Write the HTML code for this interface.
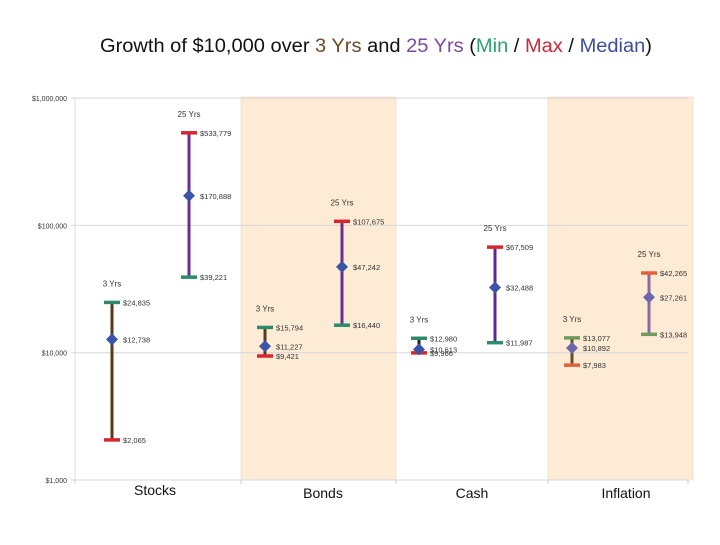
<!DOCTYPE html>
<html><head><meta charset="utf-8"><style>
html,body{margin:0;padding:0;background:#fff;}
svg text{font-family:"Liberation Sans",Arial,sans-serif;}
</style></head><body>
<svg id="chart" width="720" height="540" viewBox="0 0 720 540" xmlns="http://www.w3.org/2000/svg">
<text x="100" y="52" font-size="19" textLength="552" lengthAdjust="spacingAndGlyphs" fill="#111">Growth of $10,000 over <tspan fill="#6b4a25">3 Yrs</tspan> and <tspan fill="#7a4a9e">25 Yrs</tspan> (<tspan fill="#2aa36a">Min</tspan> / <tspan fill="#c8283a">Max</tspan> / <tspan fill="#3b4e9e">Median</tspan>)</text>
<g id="bands"></g>
<g id="grid"></g>
<g id="marks"></g>
</svg>
<script>
const categories = ["Stocks","Bonds","Cash","Inflation"];
const periods = ["3 Yrs","25 Yrs"];
const minVals = [[2065,39221],[9421,16440],[9966,11987],[7983,13948]];
const maxVals = [[24835,533779],[15794,107675],[12980,67509],[13077,42265]];
const medVals = [[12738,170888],[11227,47242],[10613,32488],[10892,27261]];
const minLabels = [["$2,065","$39,221"],["$9,421","$16,440"],["$9,966","$11,987"],["$7,983","$13,948"]];
const maxLabels = [["$24,835","$533,779"],["$15,794","$107,675"],["$12,980","$67,509"],["$13,077","$42,265"]];
const medLabels = [["$12,738","$170,888"],["$11,227","$47,242"],["$10,613","$32,488"],["$10,892","$27,261"]];
const tickVals = [1000,10000,100000,1000000];
const tickLabels = ["$1,000","$10,000","$100,000","$1,000,000"];

const NS="http://www.w3.org/2000/svg";
const X0=75,X1=688,Y0=480,DEC=127.3;
const bounds=[75,241,396,548,688];
const seriesX=[[112,189],[265,342],[419,495],[572,649]];
const labelX=[155,323,472,626];
function y(v){return Y0-(Math.log10(v)-3)*DEC;}
function mk(tag,a,parent){const e=document.createElementNS(NS,tag);for(const k in a)e.setAttribute(k,a[k]);(parent||document.getElementById('marks')).appendChild(e);return e;}

const bands=document.getElementById('bands'),grid=document.getElementById('grid');
[1,3].forEach(i=>{
  const w=(i===3?693:bounds[i+1])-bounds[i];
  const b=mk('rect',{x:bounds[i],y:97,width:w,height:Y0-97,fill:'#fdebd6',stroke:'#e8d8c4','stroke-width':0.6},bands);
  
  
});
tickVals.forEach((v,k)=>{
  const l=mk('line',{x1:X0-4,x2:X1,y1:y(v),y2:y(v),stroke:'#d8d8d8','stroke-width':1},grid);
  
  
  const t=mk('text',{x:X0-8,y:y(v)+3,'font-size':7,'text-anchor':'end',fill:'#333'},grid);
  t.textContent=tickLabels[k];
  
  
});
mk('line',{x1:X0,x2:X0,y1:97,y2:Y0+4,stroke:'#ddd'},grid);
bounds.forEach(b=>{mk('line',{x1:b,x2:b,y1:Y0,y2:Y0+4,stroke:'#ccc'},grid);});
categories.forEach((c,i)=>{
  const t=mk('text',{x:labelX[i],y:Y0+18-(i===0?3:0),'font-size':14,'text-anchor':'middle',fill:'#111'},grid);
  t.textContent=c;
  
  
});

const lineCol=[['#5a3a1a','#6a2f8f'],['#5a3a1a','#6a2f8f'],['#222','#5a2a8f'],['#6b4a25','#8a6aa0']];
const greenCol=['#2e8b6a','#2e8b6a','#2e8b6a','#6f9a5e'];
const redCol=['#d8262e','#d8262e','#d8262e','#e4603a'];
const medCol=['#3a55a8','#3a55a8','#3a55a8','#6a68a8'];
categories.forEach((c,i)=>{
  periods.forEach((p,j)=>{
    const x=seriesX[i][j],ymin=y(minVals[i][j]),ymax=y(maxVals[i][j]),ym=y(medVals[i][j]);
    const topC=j===0?greenCol[i]:redCol[i], botC=j===0?redCol[i]:greenCol[i];
    const ln=mk('line',{x1:x,x2:x,y1:ymax,y2:ymin,stroke:lineCol[i][j],'stroke-width':3});
    
    
    const cm=mk('line',{x1:x-8,x2:x+8,y1:ymin,y2:ymin,stroke:botC,'stroke-width':3.5});
    
    
    const cx=mk('line',{x1:x-8,x2:x+8,y1:ymax,y2:ymax,stroke:topC,'stroke-width':3.5});
    
    
    const d=mk('polygon',{points:`${x},${ym-6} ${x+6},${ym} ${x},${ym+6} ${x-6},${ym}`,fill:medCol[i]});
    
    
    const lab=(txt,yy,nm)=>{const t=mk('text',{x:x+11,y:yy+3,'font-size':7.5,fill:'#333'});t.textContent=txt;};
    lab(maxLabels[i][j],ymax,'max-label');
    lab(minLabels[i][j],ymin,'min-label');
    lab(medLabels[i][j],ym,'median-label');
    const pt=mk('text',{x:x,y:ymax-16,'font-size':8,'text-anchor':'middle',fill:'#333'});
    pt.textContent=p;
    
    
  });
});
</script>
</body></html>
